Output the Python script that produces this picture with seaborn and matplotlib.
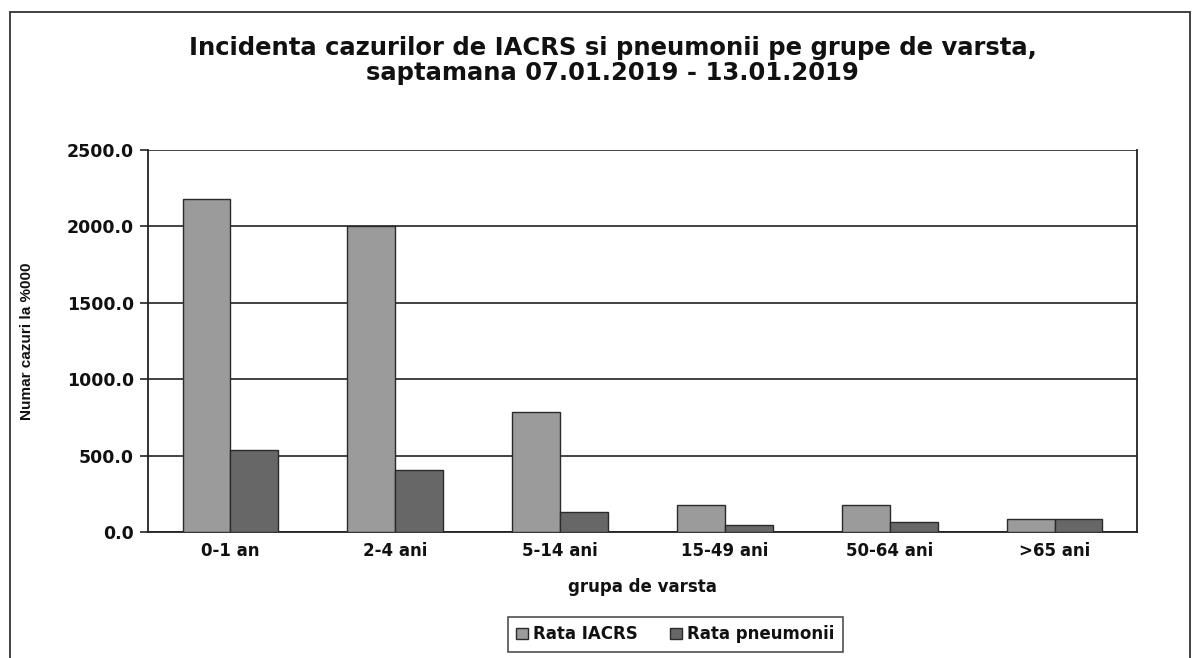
import pandas as pd
import numpy as np
import seaborn as sns
import matplotlib.pyplot as plt
from matplotlib.patches import Rectangle

# age groups and rates per 100 000
age_groups = ["0-1 an", "2-4 ani", "5-14 ani", "15-49 ani", "50-64 ani", ">65 ani"]
rata_iacrs = [2180.0, 2003.0, 785.0, 177.0, 177.0, 85.0]
rata_pneumonii = [537.0, 406.0, 133.0, 46.0, 67.0, 85.0]
series_names = ["Rata IACRS", "Rata pneumonii"]
y_ticks = [0, 500, 1000, 1500, 2000, 2500]

df = pd.DataFrame({
    "grupa": age_groups * 2,
    "serie": [series_names[0]] * len(age_groups) + [series_names[1]] * len(age_groups),
    "rata": rata_iacrs + rata_pneumonii,
})

sns.set_style("white")
plt.rcParams["font.family"] = ["DejaVu Sans"]
plt.rcParams["text.color"] = "#111111"
plt.rcParams["axes.labelcolor"] = "#111111"
plt.rcParams["xtick.color"] = "#111111"
plt.rcParams["ytick.color"] = "#111111"

fig = plt.figure(figsize=(11.97, 6.58), dpi=100)
ax = fig.add_axes([0.1236, 0.1915, 0.8263, 0.5805])

sns.barplot(data=df, x="grupa", y="rata", hue="serie", order=age_groups,
            hue_order=series_names, palette=["#9b9b9b", "#676767"],
            width=0.58, edgecolor="#2a2a2a", linewidth=1.0, saturation=1,
            ax=ax, zorder=3)

ax.set_ylim(0, 2500)
ax.set_yticks(y_ticks)
ax.set_yticklabels([f"{v:.1f}" for v in y_ticks], fontsize=12.5, fontweight="bold")
ax.set_xlim(-0.5, len(age_groups) - 0.5)
ax.set_xticks(np.arange(len(age_groups)))
ax.set_xticklabels(age_groups, fontsize=12, fontweight="bold")
# tick marks sit between groups, like in the original
ax.set_xticks(np.arange(len(age_groups) + 1) - 0.5, minor=True)
ax.tick_params(axis="x", which="major", length=0, pad=7)
ax.tick_params(axis="x", which="minor", length=5, width=1.2, direction="out", color="#222222")
ax.tick_params(axis="y", length=6, width=1.2, direction="out", color="#222222", pad=4, left=True)

ax.yaxis.grid(True, color="#222222", linewidth=1.2, zorder=0)
ax.set_axisbelow(True)
for side in ["left", "bottom", "right"]:
    ax.spines[side].set_visible(True)
    ax.spines[side].set_color("#222222")
    ax.spines[side].set_linewidth(1.3)
ax.spines["top"].set_visible(False)

ax.set_xlabel("grupa de varsta", fontsize=12, fontweight="bold", labelpad=13)
ax.set_ylabel("Numar cazuri la %000", fontsize=11, fontweight="bold",
              family=["Liberation Sans Narrow", "Liberation Sans", "DejaVu Sans"], labelpad=24)

fig.suptitle("Incidenta cazurilor de IACRS si pneumonii pe grupe de varsta,\nsaptamana 07.01.2019 - 13.01.2019",
             x=0.512, y=0.945, fontsize=17.5, fontweight="bold", linespacing=1.05)

leg = ax.legend(loc="center", bbox_to_anchor=(0.5642, 0.036), bbox_transform=fig.transFigure,
                ncol=2, frameon=True, fancybox=False, edgecolor="#222222",
                prop={"size": 12, "weight": "bold"}, handlelength=0.7, handleheight=0.7,
                handletextpad=0.35, columnspacing=1.9, borderpad=0.5, borderaxespad=0)
leg.get_frame().set_linewidth(1.2)

# outer chart frame
fig.patches.append(Rectangle((0.0084, -0.1), 0.986, 1.082, transform=fig.transFigure,
                             fill=False, edgecolor="#333333", linewidth=1.3))

fig.savefig("out.png", dpi=100)
